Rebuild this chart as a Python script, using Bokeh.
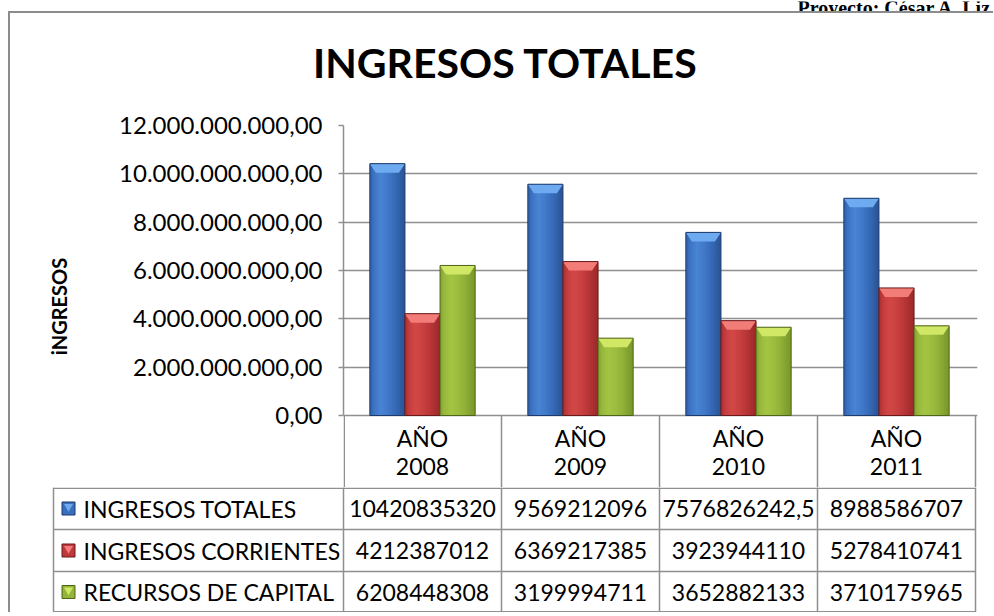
import numpy as np
from bokeh.plotting import figure
from bokeh.models import Range1d, FixedTicker
from bokeh.layouts import column
from bokeh.embed import file_html
from bokeh.resources import INLINE
from bokeh.core.properties import value

# ---------------- data ----------------
years = ["2008", "2009", "2010", "2011"]
year_prefix = "AÑO"
series_names = ["INGRESOS TOTALES", "INGRESOS CORRIENTES", "RECURSOS DE CAPITAL"]
ingresos_totales = [10420835320, 9569212096, 7576826242.5, 8988586707]
ingresos_corrientes = [4212387012, 6369217385, 3923944110, 5278410741]
recursos_capital = [6208448308, 3199994711, 3652882133, 3710175965]
y_ticks = [0, 2000000000, 4000000000, 6000000000, 8000000000, 10000000000, 12000000000]
title_text = "INGRESOS TOTALES"
y_title = "iNGRESOS"
page_header = "Proyecto: César A. Liz"

series_vals = [ingresos_totales, ingresos_corrientes, recursos_capital]

# ---------------- style / layout ----------------
FONT = "Lato"
PAGE_W = 994
STRIP_H = 11         # page header strip above the chart box
W = 983
H0 = 82              # title strip height
TITLE_CY = 49        # title centre, px from top of strip
TITLE_CX = 495
TOP = 30             # chart frame top (canvas px)
PLOT_H = 290         # px between 0 and top tick
HDR_H = 72           # category-label row height (inside chart frame, below zero)
H1 = TOP + PLOT_H + HDR_H
ROW_H = [42, 42, 41]
H2 = sum(ROW_H)
AXIS_X = 333          # canvas px of the value axis
CELL_W = 158          # px per category
TABLE_LEFT_PX = 43    # canvas px of table's left edge
GRID = "#8f8f8f"
TXT = "23px"

PALETTES = [
    dict(base="#3a6fbf", light="#5592e2", dark="#22487f", bevel="#6eaaf0", outline="#1c3a6a"),
    dict(base="#c0393a", light="#de5250", dark="#8a2324", bevel="#f27d78", outline="#6a191a"),
    dict(base="#94b53a", light="#aed04a", dark="#6c8824", bevel="#d0e866", outline="#50641a"),
]
PROF_T = [0.0, 0.08, 0.3, 0.5, 0.75, 1.0]
PROF_M = [-0.5, 0.0, 0.6, 0.3, -0.2, -0.7]
N_STRIPS = 14


def hex2rgb(h):
    h = h.lstrip("#")
    return np.array([int(h[i:i + 2], 16) for i in (0, 2, 4)], float)


def rgb2hex(c):
    c = np.clip(np.round(c), 0, 255).astype(int)
    return "#%02x%02x%02x" % tuple(c)


def shade(pal, m):
    b = hex2rgb(pal["base"])
    t = hex2rgb(pal["light"] if m > 0 else pal["dark"])
    return rgb2hex(b + (t - b) * abs(m))


def fmt_tick(v):
    s = f"{v:,.2f}"
    return s.replace(",", "X").replace(".", ",").replace("X", ".")


def fmt_val(v):
    v = float(v)
    if v.is_integer():
        return str(int(v))
    return repr(v).replace(".", ",")


def blank(fig):
    fig.outline_line_color = None
    fig.background_fill_color = "white"
    fig.border_fill_color = "white"
    fig.frame_align = False


ncat = len(years)
px_y = y_ticks[-1] / PLOT_H
x_end = ncat + 2.0 / CELL_W

# ---------------- page header strip (cut off at the top, as in the source) ----------------
ph = figure(width=PAGE_W, height=STRIP_H, x_range=Range1d(0, PAGE_W), y_range=Range1d(0, STRIP_H),
            x_axis_location=None, y_axis_location=None, output_backend="svg",
            toolbar_location=None, min_border=0)
blank(ph)
ph.grid.visible = False
ph.text(x=[797], y=[STRIP_H - 6], text=[page_header], text_font=value("Liberation Serif"),
        text_font_size="20px", text_font_style="bold", text_align="left",
        text_baseline="alphabetic", text_color="black")

# ---------------- title strip ----------------
p0 = figure(width=W, height=H0, x_range=Range1d(0, W), y_range=Range1d(0, H0),
            x_axis_location=None, y_axis_location=None, output_backend="svg",
            toolbar_location=None, min_border=0)
blank(p0)
p0.grid.visible = False
p0.text(x=[TITLE_CX], y=[H0 - TITLE_CY], text=[title_text], text_font=value(FONT),
        text_font_style="bold", text_font_size="41px", text_align="center",
        text_baseline="middle", text_color="black")

# ---------------- chart figure ----------------
p1 = figure(width=W, height=H1, x_range=Range1d(0, x_end),
            y_range=Range1d(-HDR_H * px_y, y_ticks[-1]),
            x_axis_location=None, output_backend="svg", toolbar_location=None,
            min_border_left=AXIS_X, min_border_right=W - AXIS_X - int(round(x_end * CELL_W)),
            min_border_top=TOP, min_border_bottom=0)
blank(p1)
p1.xgrid.visible = False
p1.ygrid.grid_line_color = GRID
p1.ygrid.grid_line_width = 1.5
p1.ygrid.ticker = FixedTicker(ticks=y_ticks)

yax = p1.yaxis[0]
yax.ticker = FixedTicker(ticks=y_ticks)
yax.bounds = (y_ticks[0], y_ticks[-1])
yax.major_label_overrides = {t: fmt_tick(t) for t in y_ticks}
yax.major_label_text_font = FONT
yax.major_label_text_font_size = "24px"
yax.major_label_text_color = "black"
yax.major_label_standoff = 16
yax.axis_line_color = GRID
yax.axis_line_width = 1.5
yax.major_tick_line_color = GRID
yax.major_tick_line_width = 1.5
yax.major_tick_out = 5
yax.major_tick_in = 0
yax.minor_tick_line_color = None
yax.axis_label = y_title
yax.axis_label_text_font = FONT
yax.axis_label_text_font_style = "bold"
yax.axis_label_text_font_size = "20px"
yax.axis_label_text_color = "black"
yax.axis_label_standoff = 45

# category label row (data-table header) under the zero line
cat_x = [i + 0.5 for i in range(ncat)]
sep_x = [0.75 / CELL_W] + list(range(1, ncat + 1))
p1.segment(x0=sep_x, y0=[-HDR_H * px_y] * len(sep_x), x1=sep_x, y1=[0] * len(sep_x),
           line_color=GRID, line_width=1.5)
p1.text(x=cat_x, y=[-22 * px_y] * ncat, text=[year_prefix] * ncat, text_font=value(FONT),
        text_font_size=TXT, text_align="center", text_baseline="middle", text_color="black")
p1.text(x=cat_x, y=[-51 * px_y] * ncat, text=years, text_font=value(FONT),
        text_font_size=TXT, text_align="center", text_baseline="middle", text_color="black")

n_series = len(series_vals)
bar_w = 1.0 / (n_series + 1.5)
bev_h = 9 * px_y
bev_d = 6.0 / CELL_W
edges = np.linspace(0, 1, N_STRIPS + 1)

for s, vals in enumerate(series_vals):
    pal = PALETTES[s]
    centers = np.arange(ncat) + 0.5 + (s - (n_series - 1) / 2) * bar_w
    left = centers - bar_w / 2
    top = np.array(vals, float)
    for k in range(N_STRIPS):
        f0, f1 = edges[k], edges[k + 1]
        m = float(np.interp((f0 + f1) / 2, PROF_T, PROF_M))
        p1.quad(left=left + f0 * bar_w, right=left + min(f1 + 0.03, 1.0) * bar_w,
                bottom=0, top=top, fill_color=shade(pal, m), line_color=None)
    xs = [[l, l + bar_w, l + bar_w - bev_d, l + bev_d] for l in left]
    ys = [[t, t, t - bev_h, t - bev_h] for t in top]
    p1.patches(xs, ys, fill_color=pal["bevel"], line_color=None)
    p1.quad(left=left, right=left + bar_w, bottom=0, top=top, fill_color=None,
            line_color=pal["outline"], line_width=1)

# ---------------- data table figure ----------------
x0 = -AXIS_X / CELL_W
x1 = (W - AXIS_X) / CELL_W
tl = (TABLE_LEFT_PX - AXIS_X) / CELL_W
p2 = figure(width=W, height=H2, x_range=Range1d(x0, x1), y_range=Range1d(0, H2),
            x_axis_location=None, y_axis_location=None, output_backend="svg",
            toolbar_location=None, min_border=0)
blank(p2)
p2.grid.visible = False

row_edges = [0.0]
for h in reversed(ROW_H):
    row_edges.append(row_edges[-1] + h)
rows_top = row_edges[-1]
hy = [0.75] + row_edges[1:-1] + [rows_top - 0.75]
p2.segment(x0=[tl] * len(hy), y0=hy, x1=[ncat] * len(hy), y1=hy, line_color=GRID, line_width=1.5)
vx = list(range(ncat + 1)) + [tl]
p2.segment(x0=vx, y0=[0] * len(vx), x1=vx, y1=[rows_top] * len(vx), line_color=GRID, line_width=1.5)

row_c = [(row_edges[len(ROW_H) - k] + row_edges[len(ROW_H) - k - 1]) / 2 for k in range(n_series)]
sw_x = tl + 15.0 / CELL_W
p2.rect(x=[sw_x] * n_series, y=row_c, width=13, height=13, width_units="screen",
        height_units="screen", fill_color=[pal["base"] for pal in PALETTES],
        line_color=[pal["outline"] for pal in PALETTES], line_width=1)
p2.scatter(x=[sw_x] * n_series, y=[c + 2 for c in row_c], marker="inverted_triangle", size=9,
           fill_color=[pal["bevel"] for pal in PALETTES], line_color=None)
p2.text(x=[tl + 30.0 / CELL_W] * n_series, y=row_c, text=series_names, text_font=value(FONT),
        text_font_size=TXT, text_align="left", text_baseline="middle", text_color="black")

vx_list, vy_list, vt_list = [], [], []
for k, vals in enumerate(series_vals):
    for i, v in enumerate(vals):
        vx_list.append(i + 0.5)
        vy_list.append(row_c[k])
        vt_list.append(fmt_val(v))
p2.text(x=vx_list, y=vy_list, text=vt_list, text_font=value(FONT), text_font_size=TXT,
        text_align="center", text_baseline="middle", text_color="black")

box = column(p0, p1, p2, spacing=0,
             styles={"border-left": "2px solid #8c8c8c", "border-top": "2px solid #8c8c8c",
                     "margin-left": "8px"})
layout = column(ph, box, spacing=0)

open("out.html", "w").write(file_html(layout, INLINE))
